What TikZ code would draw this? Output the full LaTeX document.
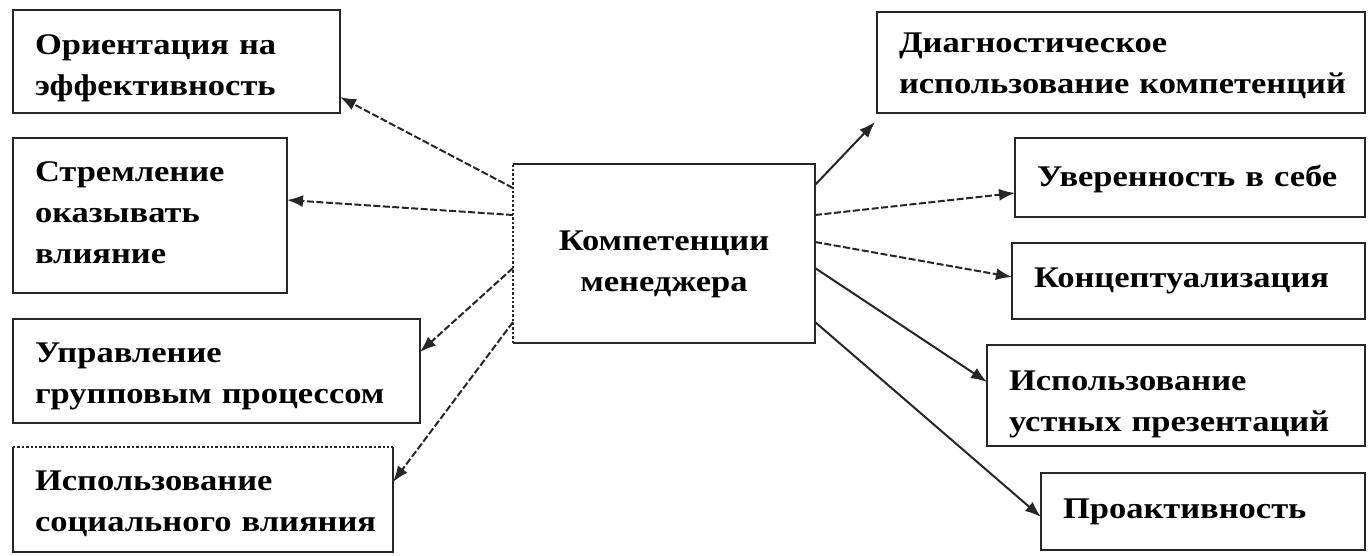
\documentclass[tikz,border=0pt]{standalone}
\usepackage{fontspec}
\setmainfont{Liberation Serif}[FakeStretch=1.15]
\usetikzlibrary{arrows.meta}
\definecolor{edge}{HTML}{262626}
\tikzset{
  box/.style={rectangle, draw=edge, line width=2.4pt, outer sep=0pt, inner ysep=0pt,
    inner xsep=22pt, anchor=north west, align=left,
    font=\fontsize{30}{41}\selectfont\bfseries},
  nobox/.style={box, draw=none},
  side/.style={draw=edge, line width=2.4pt},
  arr/.style={draw=edge, line width=2pt, -{Latex[length=16pt,width=12pt]}},
  darr/.style={arr, dash pattern=on 7pt off 2.5pt},
}
\begin{document}
\begin{tikzpicture}[x=1pt, y=-1pt]
\fill[white] (0,0) rectangle (1370,556);
\useasboundingbox (0,0) rectangle (1370,556);

% left boxes
\node[box, minimum width=327, text width=283, text height=45, text depth=58] (b1) at (13,10)
  {Ориентация на\\эффективность};
\node[box, minimum width=274, text width=230, text height=44, text depth=111] (b2) at (13,138)
  {Стремление\\оказывать\\влияние};
\node[box, minimum width=407, text width=363, text height=43, text depth=61] (b3) at (13,319)
  {Управление\\\mbox{групповым процессом}};
\node[nobox, minimum width=380, text width=336, text height=43, text depth=62] (b4) at (13,447)
  {Использование\\\mbox{социального влияния}};
\draw[side] (b4.north east) -- (b4.south east) -- (b4.south west) -- (b4.north west);
\draw[side, dotted] (b4.north west) -- (b4.north east);

% centre
\node[nobox, align=center, minimum width=302, text width=258, text height=86, text depth=93] (c) at (513,164)
  {Компетенции\\менеджера};
\draw[side] (c.north west) -- (c.north east) -- (c.south east) -- (c.south west);
\draw[side, dotted] (c.south west) -- (c.north west);

% right boxes
\node[box, minimum width=488, text width=444, text height=41, text depth=60] (b5) at (877,12)
  {Диагностическое\\\mbox{использование компетенций}};
\node[box, minimum width=350, text width=306, text height=49, text depth=30] (b6) at (1015,138)
  {\mbox{Уверенность в себе}};
\node[box, minimum width=353, text width=309, text height=44, text depth=32] (b7) at (1012,243)
  {Концептуализация};
\node[box, minimum width=378, text width=334, text height=45, text depth=56] (b8) at (987,345)
  {Использование\\\mbox{устных презентаций}};
\node[box, minimum width=324, text width=280, text height=45, text depth=32] (b9) at (1041,473)
  {Проактивность};

% connectors
\draw[darr] ([yshift=-24]c.north west) -- ([yshift=16]b1.south east);
\draw[darr] ([yshift=-51]c.north west) -- ([yshift=-62]b2.north east);
\draw[darr] ([yshift=-104]c.north west) -- ([yshift=-33]b3.north east);
\draw[darr] ([yshift=-158]c.north west) -- ([yshift=-35]b4.north east);
\draw[arr]  ([yshift=-21]c.north east) -- ([xshift=-2,yshift=-9]b5.south west);
\draw[darr] ([yshift=-51]c.north east) -- ([yshift=-55]b6.north west);
\draw[darr] ([yshift=-78]c.north east) -- ([yshift=-34]b7.north west);
\draw[arr]  ([yshift=-104]c.north east) -- ([yshift=-37]b8.north west);
\draw[arr]  ([yshift=-158]c.north east) -- ([yshift=-44]b9.north west);
\end{tikzpicture}
\end{document}
